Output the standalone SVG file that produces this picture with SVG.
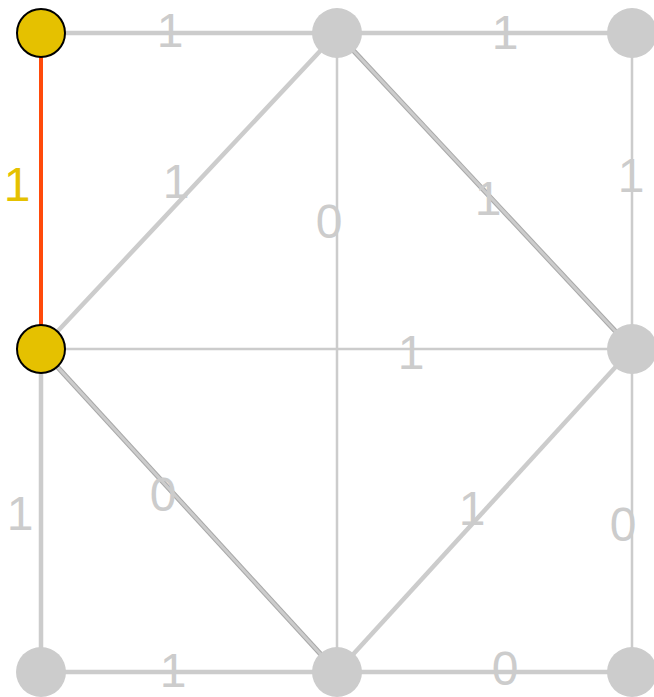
<svg xmlns="http://www.w3.org/2000/svg" width="654" height="697" viewBox="0 0 654 697">
<style>
.e{stroke:#cccccc;stroke-width:4.5;fill:none}
.t{stroke:#cccccc;stroke-width:2.5;fill:none}
.d1{stroke:#a8a8a8;stroke-width:5;fill:none}
.d2{stroke:#cccccc;stroke-width:3;fill:none}
.r{stroke:#ff4a0a;stroke-width:4;fill:none}
.n{fill:#cccccc}
.y{fill:#e5c100;stroke:#000;stroke-width:2}
text{font-family:"Liberation Sans",Arial,sans-serif;font-size:48px;fill:#cccccc;text-anchor:middle}
.yl{fill:#e5c100}
</style>
<rect width="654" height="697" fill="#ffffff"/>
<g id="connectors">
<line class="e" x1="41" y1="33" x2="337" y2="33"/>
<line class="e" x1="337" y1="33" x2="632" y2="33"/>
<line class="e" x1="337" y1="33" x2="41" y2="349"/>
<line class="t" x1="337" y1="33" x2="337" y2="672"/>
<line class="d1" x1="337" y1="33" x2="632" y2="349"/>
<line class="d2" x1="337" y1="33" x2="632" y2="349"/>
<line class="t" x1="632" y1="33" x2="632" y2="349"/>
<line class="t" x1="41" y1="349" x2="632" y2="349"/>
<line class="d1" x1="41" y1="349" x2="337" y2="672"/>
<line class="d2" x1="41" y1="349" x2="337" y2="672"/>
<line class="e" x1="41" y1="349" x2="41" y2="672"/>
<line class="e" x1="632" y1="349" x2="337" y2="672"/>
<line class="t" x1="632" y1="349" x2="632" y2="672"/>
<line class="e" x1="41" y1="672" x2="337" y2="672"/>
<line class="e" x1="337" y1="672" x2="632" y2="672"/>
<line class="r" x1="41" y1="33" x2="41" y2="349"/>
</g>
<g id="labels">
<text x="170" y="47">1</text>
<text x="505" y="49">1</text>
<text class="yl" x="17" y="201">1</text>
<text x="176" y="198">1</text>
<text x="329" y="238">0</text>
<text x="488" y="215">1</text>
<text x="631" y="192">1</text>
<text x="411" y="369">1</text>
<text x="163" y="511">0</text>
<text x="472" y="525">1</text>
<text x="623" y="541">0</text>
<text x="20" y="530">1</text>
<text x="173" y="687">1</text>
<text x="505" y="685">0</text>
</g>
<g id="n1"><circle class="y" cx="41" cy="33" r="24"/></g>
<g id="n2"><circle class="n" cx="337" cy="33" r="25"/></g>
<g id="n3"><circle class="n" cx="632" cy="33" r="25"/></g>
<g id="n4"><circle class="y" cx="41" cy="349" r="24"/></g>
<g id="n5"><circle class="n" cx="632" cy="349" r="25"/></g>
<g id="n6"><circle class="n" cx="41" cy="672" r="25"/></g>
<g id="n7"><circle class="n" cx="337" cy="672" r="25"/></g>
<g id="n8"><circle class="n" cx="632" cy="672" r="25"/></g>
</svg>
